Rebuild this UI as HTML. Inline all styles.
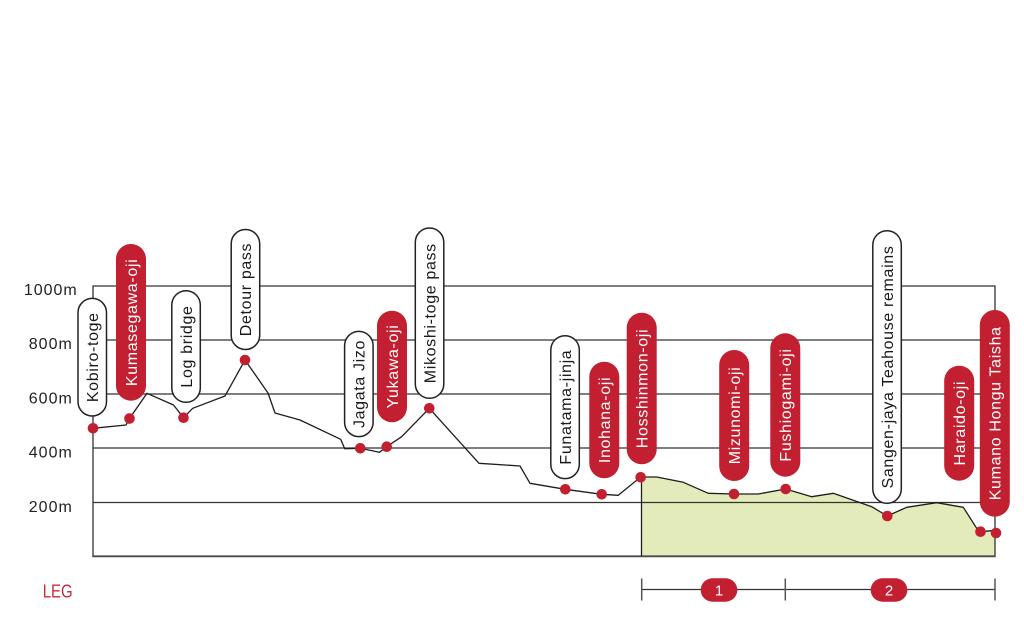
<!DOCTYPE html>
<html>
<head>
<meta charset="utf-8">
<style>
  html, body { margin: 0; padding: 0; background: #ffffff; }
  body { width: 1024px; height: 627px; overflow: hidden; }
  svg { display: block; }
  .ax { font-family: "Liberation Sans", sans-serif; font-size: 16px; fill: #222; letter-spacing: 1px; }
  .pt { font-family: "Liberation Sans", sans-serif; font-size: 16px; letter-spacing: 0.65px; }
  .pw { fill: #ffffff; stroke: #222; stroke-width: 1.5; }
  .pr { fill: #c21f30; }
  .tw { fill: #ffffff; }
  .tb { fill: #1a1a1a; }
  .grid { stroke: #333; stroke-width: 1.3; fill: none; }
  .dot { fill: #c21f30; }
</style>
</head>
<body>
<svg width="1024" height="627" viewBox="0 0 1024 627" xmlns="http://www.w3.org/2000/svg">
  <!-- green fill under second half of the profile -->
  <polygon fill="#e3ebbb" points="641.5,477 656.7,477 683.3,482.3 708.3,493.3 734,494 758.3,494 785.7,489 811.7,496.7 833.3,493.3 871.7,506.7 887.3,516 906.7,507.3 936.7,502.7 963.3,507.3 976.7,528.3 980.5,531.7 991.7,530.7 995,533 995,556 641.5,556"/>

  <!-- grid lines -->
  <line class="grid" x1="93" y1="286" x2="995" y2="286"/>
  <line class="grid" x1="93" y1="340" x2="995" y2="340"/>
  <line class="grid" x1="93" y1="394" x2="995" y2="394"/>
  <line class="grid" x1="93" y1="448" x2="995" y2="448"/>
  <line class="grid" x1="93" y1="502.5" x2="995" y2="502.5"/>
  <!-- frame verticals -->
  <line class="grid" x1="93" y1="285.4" x2="93" y2="557"/>
  <line class="grid" x1="995" y1="285.4" x2="995" y2="557"/>
  <!-- bottom line -->
  <line x1="92.4" y1="556.3" x2="995.6" y2="556.3" stroke="#4a4a4a" stroke-width="1.8"/>
  <!-- fill left edge -->
  <line x1="641.5" y1="477" x2="641.5" y2="556" stroke="#222" stroke-width="1.3"/>

  <!-- axis labels -->
  <text class="ax" x="50.8" y="295.2" text-anchor="middle">1000m</text>
  <text class="ax" x="50.8" y="349.2" text-anchor="middle">800m</text>
  <text class="ax" x="50.8" y="403.4" text-anchor="middle">600m</text>
  <text class="ax" x="50.8" y="457.6" text-anchor="middle">400m</text>
  <text class="ax" x="50.8" y="511.8" text-anchor="middle">200m</text>

  <!-- profile -->
  <polyline fill="none" stroke="#1e1e1e" stroke-width="1.3" stroke-linejoin="round" points="93,428.3 126,425 129.5,418.5 147,393.3 173.5,405 183.5,417.7 192.7,408.3 225,396 245,360 268,393 275,413 300,420 340.7,439.3 344.7,448.7 360.3,448.3 379.3,452.3 386.7,446.7 401.7,436.7 429.3,408.3 479,463.3 520,466 530,483.3 565.3,489.3 601.7,494.3 618.3,495.3 640.7,477 656.7,477 683.3,482.3 708.3,493.3 734,494 758.3,494 785.7,489 811.7,496.7 833.3,493.3 871.7,506.7 887.3,516 906.7,507.3 936.7,502.7 963.3,507.3 976.7,528.3 980.5,531.7 991.7,530.7 996,533"/>

  <!-- dots -->
  <circle class="dot" cx="93" cy="428.3" r="5.3"/>
  <circle class="dot" cx="129.5" cy="418.5" r="5.3"/>
  <circle class="dot" cx="183.5" cy="417.7" r="5.3"/>
  <circle class="dot" cx="245" cy="360" r="5.3"/>
  <circle class="dot" cx="360.3" cy="448.3" r="5.3"/>
  <circle class="dot" cx="386.7" cy="446.7" r="5.3"/>
  <circle class="dot" cx="429.3" cy="408.3" r="5.3"/>
  <circle class="dot" cx="565.3" cy="489.3" r="5.3"/>
  <circle class="dot" cx="601.7" cy="494.3" r="5.3"/>
  <circle class="dot" cx="640.7" cy="477.3" r="5.3"/>
  <circle class="dot" cx="734" cy="494" r="5.3"/>
  <circle class="dot" cx="785.7" cy="489" r="5.3"/>
  <circle class="dot" cx="887.3" cy="516" r="5.3"/>
  <circle class="dot" cx="980.5" cy="531.7" r="5.3"/>
  <circle class="dot" cx="996" cy="533" r="5.3"/>

  <!-- pills -->
  <!-- Kobiro-toge -->
  <rect class="pw" x="78" y="298.4" width="28.5" height="117.6" rx="14.25"/>
  <text class="pt tb" transform="translate(92.3,357.2) rotate(-90)" text-anchor="middle" dy="0.36em">Kobiro-toge</text>
  <!-- Kumasegawa-oji -->
  <rect class="pr" x="116" y="244" width="30" height="156.7" rx="15"/>
  <text class="pt tw" transform="translate(131,322.4) rotate(-90)" text-anchor="middle" dy="0.36em">Kumasegawa-oji</text>
  <!-- Log bridge -->
  <rect class="pw" x="171.8" y="290.7" width="28.5" height="111.6" rx="14.25"/>
  <text class="pt tb" transform="translate(186,346.5) rotate(-90)" text-anchor="middle" dy="0.36em">Log bridge</text>
  <!-- Detour pass -->
  <rect class="pw" x="231.2" y="229.5" width="28.5" height="120" rx="14.25"/>
  <text class="pt tb" transform="translate(245.4,289.5) rotate(-90)" text-anchor="middle" dy="0.36em">Detour pass</text>
  <!-- Jagata Jizo -->
  <rect class="pw" x="344.6" y="331.4" width="28.5" height="105.2" rx="14.25"/>
  <text class="pt tb" transform="translate(358.8,384) rotate(-90)" text-anchor="middle" dy="0.36em">Jagata Jizo</text>
  <!-- Yukawa-oji -->
  <rect class="pr" x="377" y="310.7" width="30" height="111.6" rx="15"/>
  <text class="pt tw" transform="translate(392,366.5) rotate(-90)" text-anchor="middle" dy="0.36em">Yukawa-oji</text>
  <!-- Mikoshi-toge pass -->
  <rect class="pw" x="415.3" y="228" width="28.5" height="170.3" rx="14.25"/>
  <text class="pt tb" transform="translate(429.5,313.2) rotate(-90)" text-anchor="middle" dy="0.36em">Mikoshi-toge pass</text>
  <!-- Funatama-jinja -->
  <rect class="pw" x="550.8" y="335.7" width="28.5" height="142.9" rx="14.25"/>
  <text class="pt tb" transform="translate(565,407.1) rotate(-90)" text-anchor="middle" dy="0.36em">Funatama-jinja</text>
  <!-- Inohana-oji -->
  <rect class="pr" x="589.3" y="361.7" width="30" height="116.6" rx="15"/>
  <text class="pt tw" transform="translate(604.3,420) rotate(-90)" text-anchor="middle" dy="0.36em">Inohana-oji</text>
  <!-- Hosshinmon-oji -->
  <rect class="pr" x="626.7" y="312.7" width="30" height="151.6" rx="15"/>
  <text class="pt tw" transform="translate(641.7,388.5) rotate(-90)" text-anchor="middle" dy="0.36em">Hosshinmon-oji</text>
  <!-- Mizunomi-oji -->
  <rect class="pr" x="719.2" y="350" width="30" height="131" rx="15"/>
  <text class="pt tw" transform="translate(734.2,415.5) rotate(-90)" text-anchor="middle" dy="0.36em">Mizunomi-oji</text>
  <!-- Fushiogami-oji -->
  <rect class="pr" x="770.3" y="333.3" width="30" height="143.4" rx="15"/>
  <text class="pt tw" transform="translate(785.3,405) rotate(-90)" text-anchor="middle" dy="0.36em">Fushiogami-oji</text>
  <!-- Sangen-jaya Teahouse remains -->
  <rect class="pw" x="872.8" y="230.7" width="28.5" height="272.6" rx="14.25"/>
  <text class="pt tb" transform="translate(887,367) rotate(-90)" text-anchor="middle" dy="0.36em">Sangen-jaya Teahouse remains</text>
  <!-- Haraido-oji -->
  <rect class="pr" x="944.2" y="365.7" width="30" height="115" rx="15"/>
  <text class="pt tw" transform="translate(959.2,423.2) rotate(-90)" text-anchor="middle" dy="0.36em">Haraido-oji</text>
  <!-- Kumano Hongu Taisha -->
  <rect class="pr" x="979.8" y="310" width="30" height="206.7" rx="15"/>
  <text class="pt tw" transform="translate(994.8,413.3) rotate(-90)" text-anchor="middle" dy="0.36em">Kumano Hongu Taisha</text>

  <!-- LEG row -->
  <text x="42.7" y="597.3" font-family="Liberation Sans, sans-serif" font-size="18.5" fill="#c8283a" textLength="30" lengthAdjust="spacingAndGlyphs">LEG</text>
  <line x1="641.7" y1="589.5" x2="995" y2="589.5" stroke="#333" stroke-width="1.3"/>
  <line x1="641.7" y1="578.5" x2="641.7" y2="600.5" stroke="#555" stroke-width="1.5"/>
  <line x1="785.3" y1="578.5" x2="785.3" y2="600.5" stroke="#555" stroke-width="1.5"/>
  <line x1="995" y1="578.5" x2="995" y2="600.5" stroke="#555" stroke-width="1.5"/>
  <rect x="700.7" y="578.3" width="36.6" height="23.4" rx="11.7" fill="#c21f30"/>
  <text x="719" y="595.5" font-family="Liberation Sans, sans-serif" font-size="15" fill="#ffffff" text-anchor="middle">1</text>
  <rect x="870.7" y="578.3" width="36.6" height="23.4" rx="11.7" fill="#c21f30"/>
  <text x="889" y="595.5" font-family="Liberation Sans, sans-serif" font-size="15" fill="#ffffff" text-anchor="middle">2</text>
</svg>
</body>
</html>
